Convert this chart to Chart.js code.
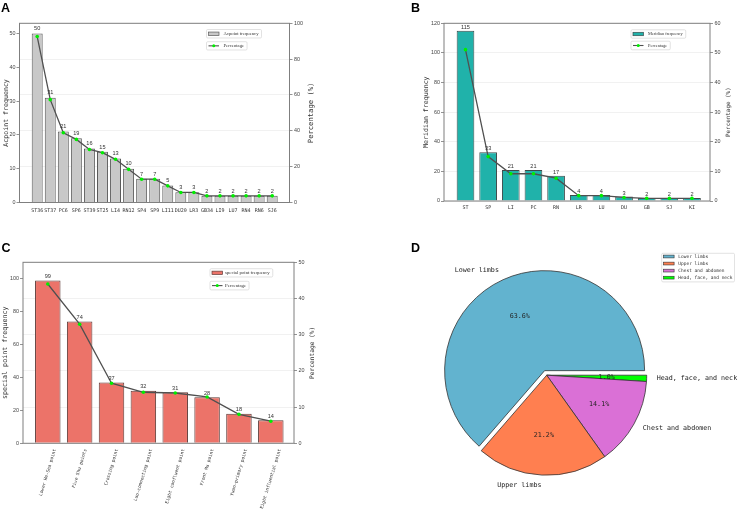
<!DOCTYPE html>
<html>
<head>
<meta charset="utf-8">
<title>Acupoint, meridian, special point and region analysis</title>
<script src="https://cdn.jsdelivr.net/npm/chart.js@4.4.1/dist/chart.umd.min.js"></script>
<style>
  html, body { margin:0; padding:0; background:#ffffff; }
  body { position:relative; width:738px; height:512px; overflow:hidden; }
  .panel { position:absolute; }
  .panel canvas { display:block; }
  .letter { position:absolute; font: bold 12.5px "Liberation Sans", Arial, sans-serif; color:#000; line-height:1; }
</style>
</head>
<body>
<div class="panel" style="left:0;top:0;width:330px;height:230px"><canvas id="chartA" width="330" height="230"></canvas></div>
<div class="panel" style="left:370px;top:0;width:368px;height:230px"><canvas id="chartB" width="368" height="230"></canvas></div>
<div class="panel" style="left:0;top:230px;width:330px;height:282px"><canvas id="chartC" width="330" height="282"></canvas></div>
<div class="panel" style="left:370px;top:230px;width:368px;height:282px"><canvas id="chartD" width="368" height="282"></canvas></div>
<div class="letter" style="left:1px;top:2px">A</div>
<div class="letter" style="left:411px;top:1.5px">B</div>
<div class="letter" style="left:1.5px;top:241.5px">C</div>
<div class="letter" style="left:411px;top:241.5px">D</div>
<script>
// ---------------- Data ----------------
const acupointLabels = ['ST36','ST37','PC6','SP6','ST39','ST25','LI4','RN12','SP4','SP9','LI11','DU20','LR3','GB34','LI9','LU7','RN4','RN6','SJ6'];
const acupointFreq   = [50, 31, 21, 19, 16, 15, 13, 10, 7, 7, 5, 3, 3, 2, 2, 2, 2, 2, 2];
const acupointPct    = [92.6, 57.4, 38.9, 35.2, 29.6, 27.8, 24.1, 18.5, 13.0, 13.0, 9.3, 5.6, 5.6, 3.7, 3.7, 3.7, 3.7, 3.7, 3.7];

const meridianLabels = ['ST','SP','LI','PC','RN','LR','LU','DU','GB','SJ','KI'];
const meridianFreq   = [115, 33, 21, 21, 17, 4, 4, 3, 2, 2, 2];
const meridianPct    = [51.1, 15.0, 9.2, 9.2, 7.7, 1.8, 1.8, 1.2, 0.9, 0.9, 0.9];

const specialLabels = ['Lower He-Sea point','Five Shu points','Crossing point','Luo-connecting point','Eight confluent point','Front Mu point','Yuan-primary point','Eight influential point'];
const specialFreq   = [99, 74, 37, 32, 31, 28, 18, 14];
const specialPct    = [44.0, 32.9, 16.6, 14.1, 13.9, 12.8, 8.0, 6.1];

const regionLabels = ['Lower limbs','Upper limbs','Chest and abdomen','Head, face, and neck'];
const regionCounts = [63, 21, 14, 1];

// ---------------- Helpers ----------------
Chart.defaults.font.family = 'Liberation Sans';
Chart.defaults.color = '#333';

function boxPath(ctx, x, y, w, h, r) {
  ctx.beginPath();
  if (ctx.roundRect) ctx.roundRect(x, y, w, h, r); else ctx.rect(x, y, w, h);
}

const mplPlugin = {
  id: 'mpl',
  afterDatasetsDraw(chart, args, o) {
    const ctx = chart.ctx, a = chart.chartArea;
    ctx.save();
    // spines
    ctx.strokeStyle = '#7f7f7f'; ctx.lineWidth = 1;
    ctx.strokeRect(a.left, a.top, a.right - a.left, a.bottom - a.top);
    // value labels above bars
    const bi = o.barIndex;
    const bds = chart.data.datasets[bi];
    const bmeta = chart.getDatasetMeta(bi);
    ctx.fillStyle = '#333'; ctx.font = o.valueFont;
    ctx.textAlign = 'center'; ctx.textBaseline = 'alphabetic';
    bmeta.data.forEach((el, i) => { ctx.fillText(String(bds.data[i].y), el.x, el.y - o.valueGap); });
    // axis titles (both read bottom-to-top)
    (o.titles || []).forEach(t => {
      ctx.save();
      ctx.translate(t.x, (a.top + a.bottom) / 2);
      ctx.rotate(-Math.PI / 2);
      ctx.font = t.font; ctx.fillStyle = '#333';
      ctx.textAlign = 'center'; ctx.textBaseline = 'middle';
      ctx.fillText(t.text, 0, 0);
      ctx.restore();
    });
    // legends (one framed box per dataset)
    (o.legends || []).forEach(L => {
      const ds = chart.data.datasets[L.ds];
      ctx.font = o.legendFont;
      const tw = ctx.measureText(ds.label).width;
      const w = L.textDx + tw + 3;
      ctx.fillStyle = 'rgba(255,255,255,0.85)'; ctx.strokeStyle = '#d6d6d6'; ctx.lineWidth = 0.7;
      boxPath(ctx, L.x, L.y, w, L.h, 1.2); ctx.fill(); ctx.stroke();
      const cy = L.y + L.h / 2;
      if (ds.type === 'bar') {
        ctx.fillStyle = ds.backgroundColor; ctx.fillRect(L.x + 2, cy - 1.7, 10.5, 3.4);
        ctx.strokeStyle = ds.borderColor; ctx.lineWidth = 0.7; ctx.strokeRect(L.x + 2, cy - 1.7, 10.5, 3.4);
      } else {
        ctx.strokeStyle = ds.borderColor; ctx.lineWidth = 1.1;
        ctx.beginPath(); ctx.moveTo(L.x + 2, cy); ctx.lineTo(L.x + 12.5, cy); ctx.stroke();
        ctx.fillStyle = ds.pointBackgroundColor;
        ctx.beginPath(); ctx.arc(L.x + 7.25, cy, 1.5, 0, Math.PI * 2); ctx.fill();
      }
      ctx.fillStyle = '#333'; ctx.textAlign = 'left'; ctx.textBaseline = 'middle';
      ctx.fillText(ds.label, L.x + L.textDx, cy);
    });
    // rotated category labels (centred on the tick, like matplotlib)
    if (o.rot) {
      const xs = chart.scales.x; const ang = o.rot.angle * Math.PI / 180;
      ctx.font = o.rot.font; ctx.fillStyle = '#333';
      chart.data.labels.forEach((t, i) => {
        const w = ctx.measureText(t).width, h = o.rot.size;
        const H = w * Math.sin(ang) + h * Math.cos(ang);
        const cx = xs.getPixelForValue(i), cy = a.bottom + o.rot.gap + H / 2;
        ctx.save(); ctx.translate(cx, cy); ctx.rotate(-ang);
        ctx.textAlign = 'center'; ctx.textBaseline = 'middle';
        ctx.fillText(t, 0, 0); ctx.restore();
      });
    }
    ctx.restore();
  }
};

function barPanel(id, P) {
  const labels = P.labels;
  return new Chart(document.getElementById(id), {
    type: 'bar',
    plugins: [mplPlugin],
    data: {
      labels: labels,
      datasets: [
        { type: 'line', label: 'Percentage', yAxisID: 'y2',
          data: labels.map((_, i) => ({ x: i, y: P.pct[i] })),
          borderColor: '#505050', borderWidth: 1.3, tension: 0,
          pointRadius: 1.8, pointBackgroundColor: '#00ee00', pointBorderWidth: 0, order: 0 },
        { type: 'bar', label: P.barLabel, yAxisID: 'y',
          data: labels.map((_, i) => ({ x: i, y: P.freq[i] })),
          backgroundColor: P.color, borderColor: P.edge, borderWidth: 1,
          barPercentage: P.barPct, categoryPercentage: 1, order: 1 }
      ]
    },
    options: {
      responsive: false, animation: false, devicePixelRatio: 1, events: [],
      layout: { autoPadding: false, padding: P.padding },
      plugins: {
        legend: { display: false }, tooltip: { enabled: false },
        mpl: { barIndex: 1, valueFont: P.valueFont, valueGap: P.valueGap, titles: P.titles,
               legends: P.legends, legendFont: P.legendFont, rot: P.rot || null }
      },
      scales: {
        x: { type: 'linear', min: P.xMin, max: P.xMax, offset: false,
             afterBuildTicks: s => { s.ticks = labels.map((_, i) => ({ value: i })); },
             afterFit: s => { s.height = P.xH; },
             grid: { display: false, drawTicks: false, offset: false },
             border: { display: false },
             ticks: { display: !P.rot, autoSkip: false, maxRotation: 0, minRotation: 0,
                      padding: P.xPad, color: '#333',
                      font: { family: 'DejaVu Sans Mono', size: P.xFont },
                      callback: v => labels[v] } },
        y: { position: 'left', min: 0, max: P.yMax,
             afterFit: s => { s.width = P.leftW; },
             border: { display: false },
             grid: { drawOnChartArea: false, tickLength: 3, tickColor: '#777', tickWidth: 0.8 },
             ticks: { stepSize: P.yStep, includeBounds: false, padding: 1, color: '#444',
                      font: { family: 'Liberation Sans', size: 5.4 } } },
        y2: { position: 'right', min: 0, max: P.y2Max,
              afterFit: s => { s.width = P.rightW; },
              border: { display: false },
              grid: { drawOnChartArea: true, color: 'rgba(0,0,0,0.07)', lineWidth: 0.8,
                      tickLength: 3, tickColor: '#777', tickWidth: 0.8 },
              ticks: { stepSize: P.y2Step, includeBounds: false, padding: 1.5, color: '#444',
                       font: { family: 'Liberation Sans', size: 5.4 } } }
      }
    }
  });
}

// ---------------- Panel A ----------------
barPanel('chartA', {
  labels: acupointLabels, freq: acupointFreq, pct: acupointPct,
  barLabel: 'Acpoint frequency', color: '#c8c8c8', edge: '#5a5a5a', barPct: 0.84,
  xMin: -1.356, xMax: 19.325, yMax: 53, yStep: 10, y2Max: 100, y2Step: 20,
  padding: { left: 0, top: 23.3, right: 0, bottom: 0 }, leftW: 19.5, rightW: 40.5, xH: 27.5,
  xPad: 5, xFont: 5, valueFont: '5.6px "Liberation Sans"', valueGap: 3.2,
  titles: [ { text: 'Acpoint frequency', x: 5.8, font: '6.6px "DejaVu Sans Mono"' },
            { text: 'Percentage (%)', x: 310.7, font: '7.2px "DejaVu Sans Mono"' } ],
  legendFont: '4.7px "Liberation Serif"',
  legends: [ { ds: 1, x: 206.5, y: 29.5, h: 8.5, textDx: 17 },
             { ds: 0, x: 206.5, y: 41.7, h: 8.3, textDx: 17 } ]
});

// ---------------- Panel B ----------------
barPanel('chartB', {
  labels: meridianLabels, freq: meridianFreq, pct: meridianPct,
  barLabel: 'Meridian frequency', color: '#20b2aa', edge: '#3c4a4a', barPct: 0.78,
  xMin: -0.949, xMax: 10.795, yMax: 120, yStep: 20, y2Max: 60, y2Step: 10,
  padding: { left: 52, top: 23.3, right: 0, bottom: 0 }, leftW: 22, rightW: 28, xH: 29,
  xPad: 3.5, xFont: 5, valueFont: '5.6px "Liberation Sans"', valueGap: 2,
  titles: [ { text: 'Meridian frequency', x: 56.7, font: '6.6px "DejaVu Sans Mono"' },
            { text: 'Percentage (%)', x: 358.3, font: '5.9px "DejaVu Sans Mono"' } ],
  legendFont: '4.4px "Liberation Serif"',
  legends: [ { ds: 1, x: 261, y: 29.8, h: 8.4, textDx: 17 },
             { ds: 0, x: 261, y: 41.2, h: 8.6, textDx: 17 } ]
});

// ---------------- Panel C ----------------
barPanel('chartC', {
  labels: specialLabels, freq: specialFreq, pct: specialPct,
  barLabel: 'special point frequency', color: '#ec7369', edge: '#5e3b38', barPct: 0.8,
  xMin: -0.778, xMax: 7.728, yMax: 110, yStep: 20, y2Max: 50, y2Step: 10,
  padding: { left: 0, top: 32.3, right: 0, bottom: 0 }, leftW: 23, rightW: 36, xH: 68.7,
  xPad: 5, xFont: 4.5, valueFont: '5.6px "Liberation Sans"', valueGap: 2.5,
  titles: [ { text: 'special point frequency', x: 5.2, font: '6.7px "DejaVu Sans Mono"' },
            { text: 'Percentage (%)', x: 312.3, font: '6.2px "DejaVu Sans Mono"' } ],
  legendFont: '4.8px "Liberation Serif"',
  legends: [ { ds: 1, x: 210, y: 38.7, h: 8.3, textDx: 15 },
             { ds: 0, x: 210, y: 51.3, h: 8.6, textDx: 15 } ],
  rot: { angle: 73, font: '4.5px "DejaVu Sans Mono"', size: 4.5, gap: 5.2 }
});

// ---------------- Panel D ----------------
const regionColors = ['#62b3cf', '#ff7f50', '#da70d6', '#00ff00'];
const regionExplode = [0.05, 0, 0, 0];
// matplotlib draws counter-clockwise from 3 o'clock; Chart.js draws clockwise,
// so the slices are handed over in reverse order starting at 3 o'clock.
const rev = a => a.slice().reverse();

const piePlugin = {
  id: 'pieMpl',
  afterDatasetsUpdate(chart) {
    const meta = chart.getDatasetMeta(0);
    const ex = chart.data.datasets[0].explode;
    meta.data.forEach((el, i) => {
      const e = ex[i] || 0;
      if (!e) return;
      const mid = (el.startAngle + el.endAngle) / 2;
      el.x += Math.cos(mid) * e * el.outerRadius;
      el.y += Math.sin(mid) * e * el.outerRadius;
    });
  },
  afterDatasetsDraw(chart) {
    const ctx = chart.ctx;
    const meta = chart.getDatasetMeta(0);
    const ds = chart.data.datasets[0];
    const total = ds.data.reduce((s, v) => s + v, 0);
    ctx.save();
    ctx.fillStyle = '#222';
    ctx.font = '6.7px "DejaVu Sans Mono"';
    ctx.textBaseline = 'middle';
    meta.data.forEach((el, i) => {
      const mid = (el.startAngle + el.endAngle) / 2;
      const c = Math.cos(mid), s = Math.sin(mid), r = el.outerRadius;
      ctx.textAlign = c < 0 ? 'right' : 'left';
      ctx.fillText(chart.data.labels[i], el.x + 1.1 * r * c, el.y + 1.1 * r * s);
      ctx.textAlign = 'center';
      ctx.fillText((ds.data[i] / total * 100).toFixed(1) + '%', el.x + 0.6 * r * c, el.y + 0.6 * r * s);
    });
    // legend (original order)
    const L = { x: 291.7, y: 23.3, row: 7.05 };
    ctx.font = '4.5px "DejaVu Sans Mono"';
    let tw = 0;
    regionLabels.forEach(t => { tw = Math.max(tw, ctx.measureText(t).width); });
    ctx.fillStyle = 'rgba(255,255,255,0.85)'; ctx.strokeStyle = '#d6d6d6'; ctx.lineWidth = 0.7;
    boxPath(ctx, L.x, L.y, 16.6 + tw + 2, 4 * L.row + 0.4, 1.2); ctx.fill(); ctx.stroke();
    regionLabels.forEach((t, k) => {
      const j = chart.data.labels.indexOf(t);
      const cy = L.y + 3.2 + k * L.row;
      ctx.fillStyle = ds.backgroundColor[j]; ctx.fillRect(L.x + 1.8, cy - 1.4, 10.6, 2.8);
      ctx.strokeStyle = '#333'; ctx.lineWidth = 0.6; ctx.strokeRect(L.x + 1.8, cy - 1.4, 10.6, 2.8);
      ctx.fillStyle = '#333'; ctx.textAlign = 'left'; ctx.textBaseline = 'middle';
      ctx.fillText(t, L.x + 16.6, cy);
    });
    ctx.restore();
  }
};

new Chart(document.getElementById('chartD'), {
  type: 'pie',
  plugins: [piePlugin],
  data: {
    labels: rev(regionLabels),
    datasets: [{
      data: rev(regionCounts),
      backgroundColor: rev(regionColors),
      explode: rev(regionExplode),
      borderColor: '#333', borderWidth: 0.8,
      radius: 100, clip: false
    }]
  },
  options: {
    responsive: false, animation: false, devicePixelRatio: 1, events: [],
    radius: 100, rotation: 90,
    layout: { autoPadding: false, padding: { left: 76.7, top: 45.2, right: 91.3, bottom: 36.8 } },
    plugins: { legend: { display: false }, tooltip: { enabled: false } }
  }
});
</script>
</body>
</html>
